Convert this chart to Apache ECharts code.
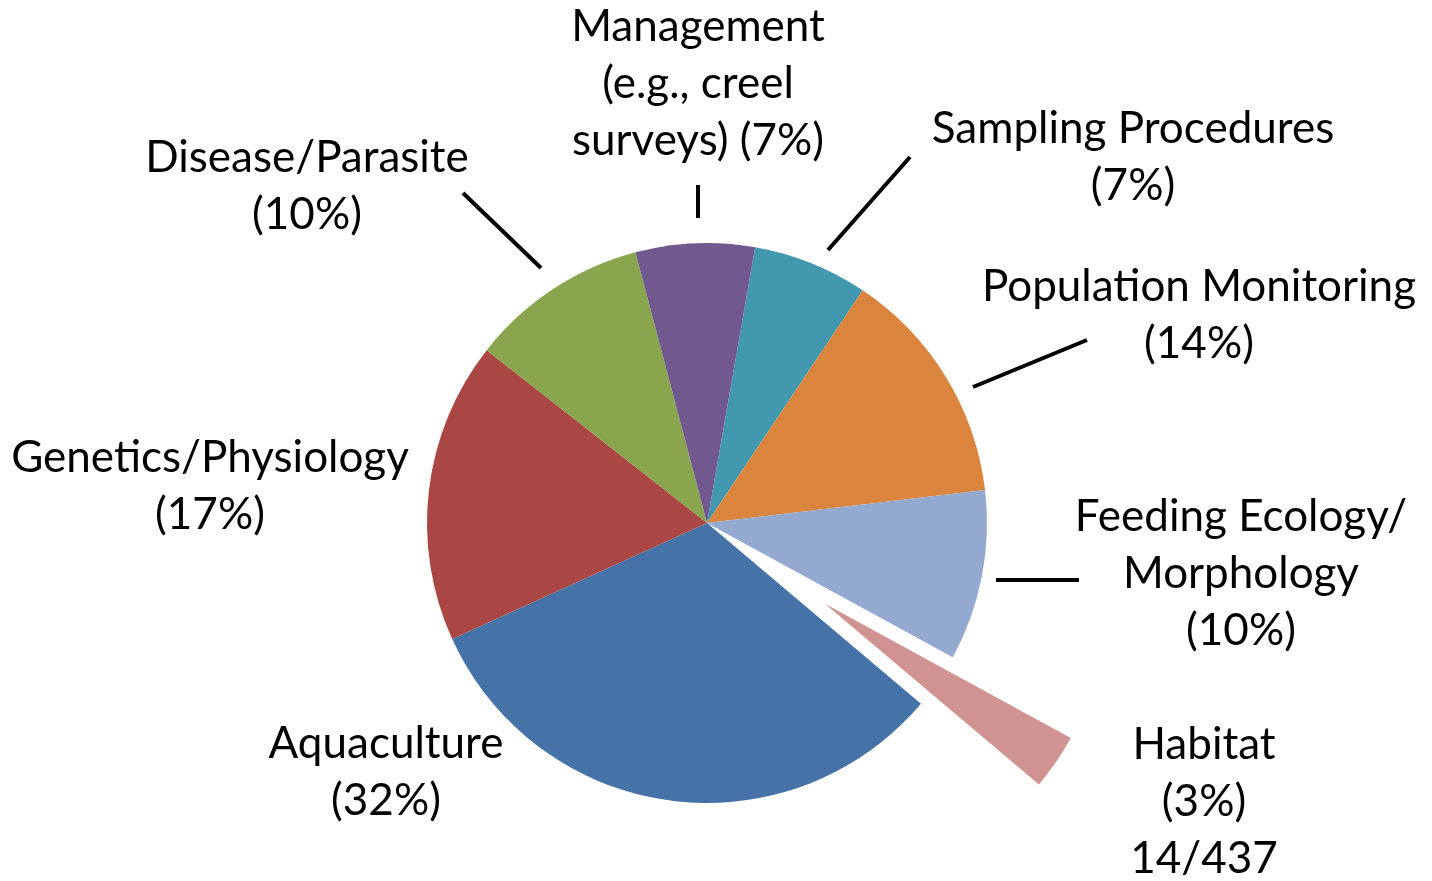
<!DOCTYPE html>
<html>
<head>
<meta charset="utf-8">
<title>Research topics</title>
<script src="https://cdn.jsdelivr.net/npm/echarts@6/dist/echarts.min.js"></script>
<style>
  html, body { margin: 0; padding: 0; background: #ffffff; }
  #chart { width: 1432px; height: 881px; }
</style>
</head>
<body>
<div id="chart"></div>
<script>
// Research topics, number of studies per category (total 437)
const categories = [
  'Sampling Procedures',
  'Population Monitoring',
  'Feeding Ecology/\nMorphology',
  'Habitat',
  'Aquaculture',
  'Genetics/Physiology',
  'Disease/Parasite',
  'Management\n(e.g., creel\nsurveys)'
];
const counts = [29, 60, 43, 14, 140, 76, 45, 30];
const colors = ['#4198AF', '#DB843D', '#93A9CF', '#D19392', '#4572A7', '#AA4643', '#89A54E', '#71588F'];

// Pulled-out slice and slices that carry a leader line
const explodedIndex = 3;
const withLeader = [true, true, true, false, false, false, true, true];

// Label block centres and leader line segments (pixels)
const labelSpots = [
  { x: 1133, y: 157, line: [[910, 157], [828, 250]] },
  { x: 1199, y: 315, line: [[1087, 340], [973, 387]] },
  { x: 1241, y: 574, line: [[996, 580], [1079, 580]] },
  { x: 1204, y: 802, line: null },
  { x: 386, y: 772, line: null },
  { x: 210, y: 486, line: null },
  { x: 307, y: 186, line: [[463, 193], [541, 268]] },
  { x: 698, y: 84, line: [[698, 185], [698, 218]] }
];

const total = counts.reduce((a, b) => a + b, 0);
const pieCenter = [707, 523];
const pieRadius = 280;
const startAngle = 80.1;
const explodeOffset = 143;
const clear = 'rgba(0,0,0,0)';

// Shift of the pulled-out slice along its mid-angle
const before = counts.slice(0, explodedIndex).reduce((a, b) => a + b, 0);
const midDeg = startAngle - (before + counts[explodedIndex] / 2) / total * 360;
const shiftX = Math.cos(midDeg * Math.PI / 180) * explodeOffset;
const shiftY = -Math.sin(midDeg * Math.PI / 180) * explodeOffset;

const chart = echarts.init(document.getElementById('chart'), null, { renderer: 'canvas' });

// Main pie: every slice except the pulled-out one, plus all labels
const mainData = categories.map((name, i) => ({
  name: name,
  value: counts[i],
  itemStyle: { color: i === explodedIndex ? clear : colors[i] },
  labelLine: { show: withLeader[i] }
}));

// Pulled-out pie: same values, only the exploded slice is painted
const explodedData = categories.map((name, i) => ({
  name: name,
  value: counts[i],
  itemStyle: { color: i === explodedIndex ? colors[i] : clear }
}));

chart.setOption({
  animation: false,
  backgroundColor: '#ffffff',
  series: [{
    type: 'pie',
    center: pieCenter,
    radius: pieRadius,
    startAngle: startAngle,
    clockwise: true,
    silent: true,
    avoidLabelOverlap: false,
    percentPrecision: 0,
    data: mainData,
    itemStyle: { borderWidth: 0 },
    label: {
      show: true,
      position: 'outside',
      color: '#000000',
      fontFamily: 'Lato',
      fontSize: 44,
      lineHeight: 57,
      align: 'center',
      formatter: function (p) {
        const sep = p.dataIndex === 7 ? ' ' : '\n';
        let s = p.name + sep + '(' + p.percent + '%)';
        if (p.dataIndex === explodedIndex) s += '\n' + p.value + '/' + total;
        return s;
      }
    },
    labelLine: {
      show: true,
      length: 10,
      length2: 10,
      lineStyle: { color: '#000000', width: 4 }
    },
    labelLayout: function (params) {
      const spot = labelSpots[params.dataIndex];
      const out = { x: spot.x, y: spot.y, align: 'center', verticalAlign: 'middle' };
      if (spot.line) out.labelLinePoints = spot.line;
      return out;
    }
  }, {
    type: 'pie',
    center: [pieCenter[0] + shiftX, pieCenter[1] + shiftY],
    radius: pieRadius,
    startAngle: startAngle,
    clockwise: true,
    silent: true,
    data: explodedData,
    itemStyle: { borderWidth: 0 },
    label: { show: false },
    labelLine: { show: false }
  }]
});
</script>
</body>
</html>
